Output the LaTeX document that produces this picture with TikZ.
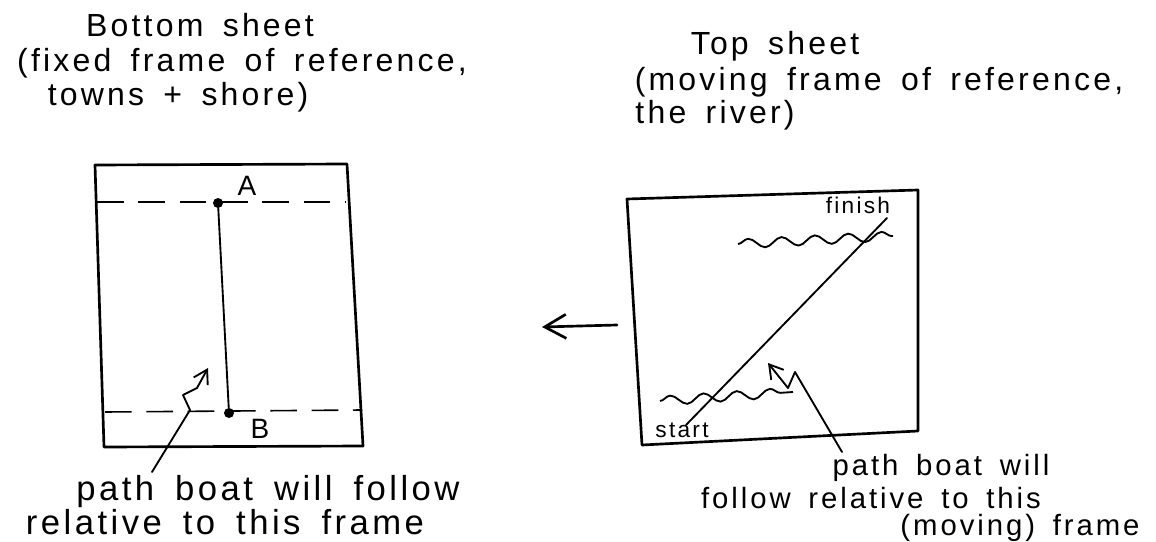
\documentclass[tikz,border=0pt]{standalone}
\usepackage{fontspec}
\setmainfont{Liberation Sans}
\newfontfamily\hand[LetterSpace=10,WordSpace=1.6]{Liberation Sans}
\usetikzlibrary{arrows.meta,decorations.pathmorphing}
\begin{document}
\begin{tikzpicture}[x=0.75pt,y=-0.75pt,
  ink/.style={line width=2pt, line cap=round, line join=round},
  thinink/.style={line width=1.4pt, line cap=round, line join=round},
  title/.style={font=\hand\fontsize{24}{28}\selectfont, inner sep=0pt, anchor=base},
  capl/.style={font=\hand\fontsize{26}{30}\selectfont, inner sep=0pt, anchor=base},
  capr/.style={font=\hand\fontsize{22}{26}\selectfont, inner sep=0pt, anchor=base, text height=0.74em},
  small/.style={font=\hand\fontsize{17}{20}\selectfont, inner sep=0pt},
  lbl/.style={font=\hand\fontsize{21}{24}\selectfont, inner sep=0pt},
  dashline/.style={line width=1.2pt, dash pattern=on 20pt off 11pt},
  wave/.style={line width=1.4pt, decorate, decoration={snake, segment length=25pt, amplitude=3.5pt}},
  dot/.style={circle, fill=black, inner sep=0pt, minimum size=7.5pt},
  barb/.style={-{Straight Barb[length=10pt,width=12pt]}},
]
\useasboundingbox (0,0) rectangle (1156,542);

% titles
\node[title] (t1) at (200,37) {Bottom sheet};
\node[title] (t2) at (242,72) {(fixed frame of reference,};
\node[title] (t3) at (178,105) {towns + shore)};
\node[title] (r1) at (775,55) {Top sheet};
\node[title] (r2) at (879,90) {(moving frame of reference,};
\node[title] (r3) at (715,123) {the river)};

% left sheet
\draw[ink] (95,165) -- (347,164) -- (363,446) -- (104,447) -- cycle;
\draw[dashline] (97,202) -- (346,202);
\draw[dashline] (105,412) -- (362,410);
\node[dot] (A) at (218,203) {};
\node[dot] (B) at (229,413) {};
\draw[thinink] (A) -- (B);
\node[lbl] (labA) at (247,186) {A};
\node[lbl] (labB) at (260,429) {B};

% right sheet
\draw[ink] (627,199) -- (918,190) -- (918,431) -- (642,445) -- cycle;
\node[small] (start) at (682,430) {start};
\node[small] (finish) at (858,205) {finish};
\coordinate (ps) at (686,425);
\coordinate (pf) at (887,218);
\draw[thinink] (ps) -- (pf);
\draw[wave] (738,244) -- (893,236);
\draw[wave] (660,401) -- (793,392);

% motion arrow
\coordinate (mr) at (617,325);
\coordinate (ml) at (542,327);
\draw[ink, -{Straight Barb[length=16pt,width=18pt]}] (mr) -- (ml);

% bottom captions
\node[capl] (b1) at (268,500) {path boat will follow};
\node[capl] (b2) at (225,534) {relative to this frame};
\node[capr] (c1) at (941,475) {path boat will};
\node[capr, text depth=0pt] (c2) at (871,508) {follow relative to this};
\node[capr] (c3) at (1020,535) {(moving) frame};

% pointers
\coordinate (lp) at (152,472);
\draw[thinink, barb] (lp) -- (190,410) -- (183,395) -- (197,388) -- (208,368);
\coordinate (rp) at (842,452);
\draw[thinink, barb] (rp) -- (795,372) -- (788,388) -- (768,363);
\end{tikzpicture}
\end{document}
